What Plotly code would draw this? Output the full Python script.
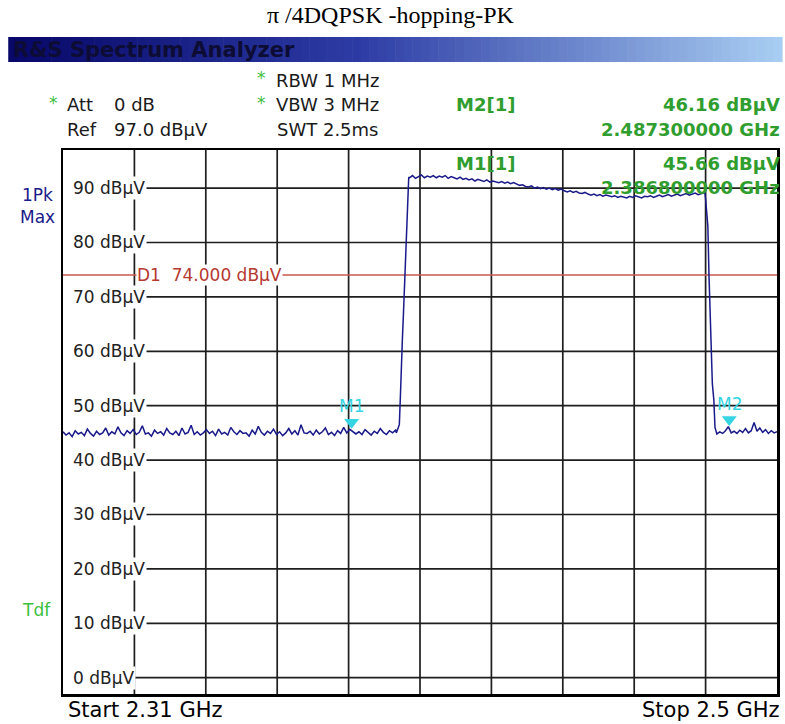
import numpy as np
import plotly.graph_objects as go

# ---------------- data ----------------
f_start, f_stop = 2.31, 2.50
ref_level, bottom_level = 97.0, -3.0
y_tick_levels = [0, 10, 20, 30, 40, 50, 60, 70, 80, 90]
y_tick_labels = [f"{v} dBµV" for v in y_tick_levels]
x_grid_freqs = [2.329, 2.348, 2.367, 2.386, 2.405, 2.424, 2.443, 2.462, 2.481]
d1_level = 74.0

noise_lo_start, noise_lo_stop = 2.3100, 2.3985
noise_lo = [
    45.2, 44.6, 45.0, 44.3, 45.4, 44.8, 45.1, 44.5, 45.7, 44.9,
    44.4, 45.3, 44.7, 45.0, 45.9, 44.6, 45.2, 44.8, 46.1, 45.0,
    44.5, 45.4, 44.9, 45.6, 44.7, 45.1, 46.3, 44.8, 45.0, 44.4,
    45.5, 44.9, 45.2, 44.6, 45.8, 45.0, 44.7, 45.3, 44.5, 45.9,
    44.8, 45.1, 46.4, 44.7, 45.2, 44.6, 45.0, 45.6, 44.9, 45.3,
    44.5, 45.7, 44.8, 45.1, 44.6, 46.0, 45.2, 44.7, 45.4, 44.9,
    45.0, 44.4, 45.5, 44.8, 46.2, 45.1, 44.6, 45.3, 44.9, 45.7,
    44.7, 45.2, 44.5, 45.0, 45.8, 44.8, 45.4, 44.6, 46.5, 45.0,
    44.9, 45.3, 44.6, 45.5, 44.8, 45.2, 45.9, 44.7, 45.1, 44.5,
    45.4, 44.9, 46.0, 45.0, 45.66, 45.3, 44.8, 45.2, 44.7, 45.6,
    45.0, 44.6, 45.3, 44.9, 45.8, 45.1, 44.7, 45.4, 45.0, 45.5,
]
rise_f = [2.3987, 2.3995, 2.3998, 2.4000, 2.4003, 2.4006, 2.4009, 2.4011, 2.4014, 2.4017, 2.4020]
rise_v = [45.0, 46.5, 52.0, 57.0, 62.0, 67.0, 72.0, 77.0, 82.0, 88.0, 92.0]

band_start, band_stop = 2.4022, 2.4806
band_v = [
    91.9, 92.3, 91.8, 92.1, 92.4, 91.9, 92.2, 92.0, 92.3, 91.9,
    92.2, 92.0, 92.3, 91.8, 92.1, 91.9, 91.7, 92.0, 91.6, 91.8,
    91.5, 91.7, 91.3, 91.6, 91.4, 91.2, 91.5, 91.1, 91.3, 91.2,
    91.0, 91.2, 90.9, 91.1, 90.8, 91.0, 90.7, 90.5, 90.6, 90.3,
    90.2, 90.4, 90.0, 90.2, 89.9, 90.1, 89.8, 90.0, 89.7, 89.9,
    89.6, 89.8, 89.5, 89.3, 89.5, 89.2, 89.4, 89.1, 89.0, 89.2,
    88.9, 88.7, 88.9, 88.6, 88.8, 88.5, 88.7, 88.6, 88.4, 88.6,
    88.3, 88.5, 88.4, 88.2, 88.5, 88.3, 88.6, 88.4, 88.2, 88.5,
    88.4, 88.6, 88.3, 88.5, 88.7, 88.4, 88.6, 88.8, 88.5, 88.7,
    88.9, 88.6, 88.8, 89.0, 88.7, 88.9, 89.1, 88.8, 89.0, 89.1,
]
fall_f = [2.4808, 2.4810, 2.4812, 2.4816, 2.4819, 2.4823, 2.4828, 2.4832, 2.4835]
fall_v = [89.2, 88.0, 86.5, 83.0, 74.0, 66.0, 54.0, 51.0, 46.0]

noise_hi_start, noise_hi_stop = 2.4840, 2.5000
noise_hi = [44.8, 45.2, 44.9, 45.4, 46.16, 45.0, 45.3, 44.9, 45.5, 45.1, 45.8,
            45.0, 45.4, 46.9, 45.3, 45.9, 45.1, 45.6, 44.9, 45.4, 45.0, 45.2]

markers = [("M1", 2.3868, 45.66), ("M2", 2.4873, 46.16)]

# ---------------- layout geometry ----------------
W, H = 785, 724
ML, MR, MT, MB = 63, 5, 150, 30
PW, PH = W - ML - MR, H - MT - MB

def px(x):
    return (x - ML) / PW

def py(y):
    return (H - MB - y) / PH

freqs = np.concatenate([
    np.linspace(noise_lo_start, noise_lo_stop, len(noise_lo)),
    rise_f,
    np.linspace(band_start, band_stop, len(band_v)),
    fall_f,
    np.linspace(noise_hi_start, noise_hi_stop, len(noise_hi)),
])
levels = np.concatenate([noise_lo, rise_v, band_v, fall_v, noise_hi])

FONT = "DejaVu Sans"
GRID = "#1e1e1e"
GREEN = "#2f9e2f"
LGREEN = "#3cc03c"
NAVY = "#1a1a8a"
CYAN = "#34d4e2"

fig = go.Figure()

shapes = []
for fx in x_grid_freqs:
    shapes.append(dict(type="line", xref="x", yref="y", x0=fx, x1=fx,
                       y0=bottom_level, y1=ref_level, layer="below",
                       line=dict(color=GRID, width=1.7)))
for lv in y_tick_levels:
    shapes.append(dict(type="line", xref="x", yref="y", x0=x_grid_freqs[0], x1=f_stop,
                       y0=lv, y1=lv, layer="below",
                       line=dict(color=GRID, width=1.7)))
shapes.append(dict(type="rect", xref="paper", yref="paper",
                   x0=px(453), x1=1, y0=py(201), y1=1, layer="below",
                   fillcolor="white", line=dict(width=0)))
shapes.append(dict(type="line", xref="x", yref="y", x0=f_start, x1=f_stop,
                   y0=d1_level, y1=d1_level, layer="below",
                   line=dict(color="#c9574d", width=1.5)))

# gradient title bar
n_steps = 90
c0 = np.array([8, 8, 105])
c1 = np.array([45, 60, 165])
c2 = np.array([168, 205, 242])
x_left, x_right = 8, 785
for i in range(n_steps):
    t = i / (n_steps - 1)
    if t < 0.45:
        c = c0 + (c1 - c0) * (t / 0.45)
    else:
        c = c1 + (c2 - c1) * ((t - 0.45) / 0.55)
    xa = x_left + (x_right - x_left) * i / n_steps
    xb = x_left + (x_right - x_left) * (i + 1) / n_steps + 0.6
    shapes.append(dict(type="rect", xref="paper", yref="paper",
                       x0=px(xa), x1=px(xb), y0=py(62), y1=py(37), layer="above",
                       fillcolor="rgb(%d,%d,%d)" % tuple(c.astype(int)),
                       line=dict(width=0)))

fig.add_trace(go.Scatter(x=freqs, y=levels, mode="lines",
                         line=dict(color=NAVY, width=1.5), hoverinfo="skip",
                         showlegend=False))

fig.add_trace(go.Scatter(x=[m[1] for m in markers], y=[m[2] + 1.3 for m in markers],
                         mode="markers", marker=dict(symbol="triangle-down", size=13, color=CYAN),
                         showlegend=False, hoverinfo="skip"))

ann = []

def txt(text, x, y, size=17, color="#1a1a1a", xanchor="left", bold=False, family=FONT,
        bg=None):
    d = dict(text=("<b>%s</b>" % text) if bold else text, xref="paper", yref="paper",
             x=px(x), y=py(y), xanchor=xanchor, yanchor="middle", showarrow=False,
             font=dict(family=family, size=size, color=color))
    if bg:
        d["bgcolor"] = bg
        d["borderpad"] = 0
    ann.append(d)

txt("π /4DQPSK -hopping-PK", 392, 15, size=24, color="black", xanchor="center",
    family="Liberation Serif")
txt("R&S Spectrum Analyzer", 11, 50, size=21, color="#0c0c34", bold=True)

txt("*", 256, 78, size=17, color=LGREEN)
txt("RBW 1 MHz", 275, 80, size=18)
txt("*", 47, 103, size=17, color=LGREEN)
txt("Att", 65, 105, size=18)
txt("0 dB", 112, 105, size=18)
txt("*", 256, 103, size=17, color=LGREEN)
txt("VBW 3 MHz", 275, 105, size=18)
txt("Ref", 65, 130, size=18)
txt("97.0 dBµV", 112, 130, size=18)
txt("SWT 2.5ms", 276, 130, size=18)

txt("M2[1]", 456, 105, size=18, color=GREEN, bold=True)
txt("46.16 dBµV", 785, 105, size=18, color=GREEN, bold=True, xanchor="right")
txt("2.487300000 GHz", 785, 130, size=18, color=GREEN, bold=True, xanchor="right")
txt("M1[1]", 456, 163, size=18, color=GREEN, bold=True)
txt("45.66 dBµV", 785, 163, size=18, color=GREEN, bold=True, xanchor="right")
txt("2.386800000 GHz", 785, 187, size=18, color=GREEN, bold=True, xanchor="right")

txt("1Pk", 37, 195, size=17, color=NAVY, xanchor="center")
txt("Max", 37, 217, size=17, color=NAVY, xanchor="center")
txt("Tdf", 36, 610, size=17, color=LGREEN, xanchor="center")

txt("Start 2.31 GHz", 66, 710, size=21, color="black")
txt("Stop 2.5 GHz", 785, 710, size=21, color="black", xanchor="right")

for lv, lab in zip(y_tick_levels, y_tick_labels):
    ann.append(dict(text=lab, xref="paper", yref="y", x=px(71), y=lv,
                    xanchor="left", yanchor="middle", showarrow=False, bgcolor="white",
                    borderpad=1, font=dict(family=FONT, size=17, color="#222")))

ann.append(dict(text="D1  74.000 dBµV", xref="paper", yref="y", x=px(136), y=d1_level,
                xanchor="left", yanchor="middle", showarrow=False, bgcolor="white",
                borderpad=0, font=dict(family=FONT, size=17, color="#b5392f")))

for name, mf, mv in markers:
    ann.append(dict(text=name, xref="x", yref="y", x=mf, y=mv, xanchor="center",
                    yanchor="bottom", yshift=11, showarrow=False,
                    font=dict(family=FONT, size=17, color=CYAN)))

fig.update_layout(
    width=W, height=H,
    margin=dict(l=ML, r=MR, t=MT, b=MB),
    paper_bgcolor="white", plot_bgcolor="white",
    shapes=shapes, annotations=ann,
    xaxis=dict(range=[f_start, f_stop], showgrid=False, zeroline=False,
               showticklabels=False, ticks="", showline=True, mirror=True,
               linecolor="black", linewidth=2.5, fixedrange=True),
    yaxis=dict(range=[bottom_level, ref_level], showgrid=False, zeroline=False,
               showticklabels=False, ticks="", showline=True, mirror=True,
               linecolor="black", linewidth=2.5, fixedrange=True),
    showlegend=False,
)

fig.write_html("out.html", config={"staticPlot": True},
               post_script="document.body.style.margin='0';document.body.style.overflow='hidden';")
